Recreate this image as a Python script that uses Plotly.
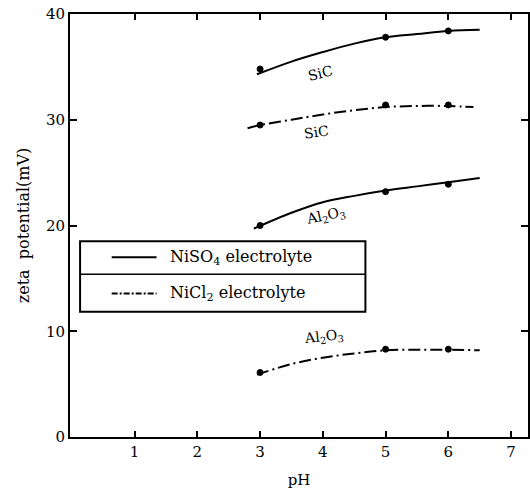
import plotly.graph_objects as go

# Zeta potential of SiC and Al2O3 particles versus pH in two nickel electrolytes
ph_meas = [3, 5, 6]

# Measured points
sic_niso4 = [34.8, 37.8, 38.4]
sic_nicl2 = [29.5, 31.4, 31.4]
al_niso4 = [20.0, 23.2, 23.9]
al_nicl2 = [6.1, 8.3, 8.3]

# Fitted curves (pH, mV)
sic_niso4_fit_ph = [2.95, 3.5, 4.0, 4.5, 5.0, 5.5, 6.0, 6.5]
sic_niso4_fit = [34.3, 35.5, 36.4, 37.2, 37.8, 38.1, 38.4, 38.5]
sic_nicl2_fit_ph = [2.8, 3.0, 3.5, 4.0, 4.5, 5.0, 5.5, 6.0, 6.4]
sic_nicl2_fit = [29.2, 29.5, 30.0, 30.5, 30.9, 31.2, 31.3, 31.3, 31.2]
al_niso4_fit_ph = [2.9, 3.5, 4.0, 4.5, 5.0, 5.5, 6.0, 6.5]
al_niso4_fit = [19.7, 21.2, 22.2, 22.8, 23.3, 23.7, 24.1, 24.5]
al_nicl2_fit_ph = [2.95, 3.5, 4.0, 4.5, 5.0, 5.5, 6.0, 6.5]
al_nicl2_fit = [5.9, 6.9, 7.5, 7.9, 8.2, 8.25, 8.25, 8.2]

x_ticks = [1, 2, 3, 4, 5, 6, 7]
y_ticks = [0, 10, 20, 30, 40]

FONT = "DejaVu Serif, Liberation Serif, serif"
DASHDOT = "12px,4px,2px,4px"

fig = go.Figure()

curves = [
    (sic_niso4_fit_ph, sic_niso4_fit, "solid"),
    (sic_nicl2_fit_ph, sic_nicl2_fit, DASHDOT),
    (al_niso4_fit_ph, al_niso4_fit, "solid"),
    (al_nicl2_fit_ph, al_nicl2_fit, DASHDOT),
]
for xs, ys, dash in curves:
    fig.add_trace(go.Scatter(
        x=xs, y=ys, mode="lines",
        line=dict(color="black", width=2, dash=dash, shape="spline", smoothing=1.0),
        showlegend=False, hoverinfo="skip",
    ))

for ys in [sic_niso4, sic_nicl2, al_niso4, al_nicl2]:
    fig.add_trace(go.Scatter(
        x=ph_meas, y=ys, mode="markers",
        marker=dict(symbol="circle", size=6, color="black",
                    line=dict(color="black", width=1)),
        showlegend=False,
    ))

# Curve labels
labels = [
    (3.97, 34.4, "SiC", -14),
    (3.90, 28.8, "SiC", -8),
    (4.05, 20.9, "Al<sub>2</sub>O<sub>3</sub>", -12),
    (4.02, 9.5, "Al<sub>2</sub>O<sub>3</sub>", -6),
]
for lx, ly, txt, ang in labels:
    fig.add_annotation(x=lx, y=ly, text=txt, showarrow=False, textangle=ang,
                       font=dict(family=FONT, size=14, color="black"))

# Legend box with a divider between the two rows
x0, x1 = 0.022, 0.645
y_top, y_mid, y_bot = 0.463, 0.385, 0.296
shapes = [
    dict(type="rect", xref="paper", yref="paper", x0=x0, x1=x1, y0=y_bot, y1=y_top,
         line=dict(color="black", width=2), fillcolor="white", layer="above"),
    dict(type="line", xref="paper", yref="paper", x0=x0, x1=x1, y0=y_mid, y1=y_mid,
         line=dict(color="black", width=1.5), layer="above"),
    dict(type="line", xref="paper", yref="paper", x0=0.091, x1=0.189,
         y0=0.425, y1=0.425, line=dict(color="black", width=2), layer="above"),
    dict(type="line", xref="paper", yref="paper", x0=0.091, x1=0.189,
         y0=0.339, y1=0.339, line=dict(color="black", width=2, dash="6px,2px,2px,2px"),
         layer="above"),
]
fig.update_layout(shapes=shapes)
fig.add_annotation(xref="paper", yref="paper", x=0.215, y=0.425, xanchor="left",
                   text="NiSO<sub>4</sub> electrolyte", showarrow=False,
                   font=dict(family=FONT, size=16, color="black"))
fig.add_annotation(xref="paper", yref="paper", x=0.215, y=0.339, xanchor="left",
                   text="NiCl<sub>2</sub> electrolyte", showarrow=False,
                   font=dict(family=FONT, size=16, color="black"))

fig.update_layout(
    width=530, height=489,
    margin=dict(l=70, r=0, t=14, b=52),
    paper_bgcolor="white", plot_bgcolor="white",
    font=dict(family=FONT, size=15, color="black"),
    xaxis=dict(
        range=[-0.03, 7.27], tickvals=x_ticks, ticktext=[str(v) for v in x_ticks],
        ticks="inside", ticklen=6, tickwidth=2, tickcolor="black",
        showline=True, linecolor="black", linewidth=2, mirror="ticks",
        showgrid=False, zeroline=False,
        title=dict(text="pH", font=dict(family=FONT, size=15), standoff=15),
    ),
    yaxis=dict(
        range=[0, 40], tickvals=y_ticks, ticktext=[str(v) for v in y_ticks],
        ticks="inside", ticklen=7, tickwidth=2, tickcolor="black",
        showline=True, linecolor="black", linewidth=2, mirror="ticks",
        showgrid=False, zeroline=False,
        title=dict(text="zeta  potential(mV)", font=dict(family=FONT, size=16), standoff=12),
    ),
)

fig.write_html("out.html")
